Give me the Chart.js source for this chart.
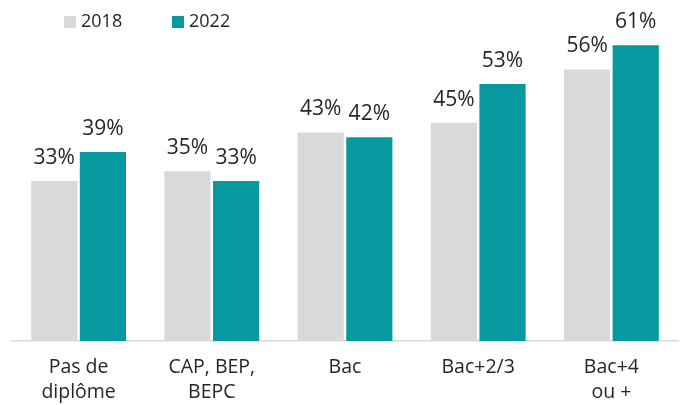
<!DOCTYPE html>
<html>
<head>
<meta charset="utf-8">
<script src="https://cdn.jsdelivr.net/npm/chart.js@4"></script>
<style>
  html, body { margin: 0; padding: 0; background: #fff; }
  #wrap { width: 683px; height: 405px; }
</style>
</head>
<body>
<div id="wrap"><canvas id="barChart"></canvas></div>
<script>
const categories = [["Pas de", "diplôme"], ["CAP, BEP,", "BEPC"], ["Bac"], ["Bac+2/3"], ["Bac+4", "ou +"]];
const values2018 = [33, 35, 43, 45, 56];
const values2022 = [39, 33, 42, 53, 61];
const seriesNames = ["2018", "2022"];
const colors = ["#d9d9d9", "#08989f"];
const FONT = "'Open Sans', 'Noto Sans', sans-serif";

// value labels above each bar
const barLabels = {
    id: 'barLabels',
    afterDatasetsDraw(chart) {
        const ctx = chart.ctx;
        ctx.save();
        ctx.font = "21px " + FONT;
        ctx.fillStyle = "#262626";
        ctx.textAlign = "center";
        ctx.textBaseline = "alphabetic";
        chart.data.datasets.forEach((ds, i) => {
            chart.getDatasetMeta(i).data.forEach((bar, j) => {
                ctx.fillText(ds.data[j] + "%", bar.x, bar.y - 17);
            });
        });
        ctx.restore();
    }
};

// legend drawn at top left
const topLegend = {
    id: 'topLegend',
    afterDraw(chart) {
        const ctx = chart.ctx;
        const xs = [64, 172];
        ctx.save();
        ctx.font = "18px " + FONT;
        ctx.textBaseline = "middle";
        chart.data.datasets.forEach((ds, i) => {
            ctx.fillStyle = ds.backgroundColor;
            ctx.fillRect(xs[i], 16, 12, 12);
            ctx.fillStyle = "#262626";
            ctx.fillText(ds.label, xs[i] + 17, 22);
        });
        ctx.restore();
    }
};

const ctx = document.getElementById('barChart');
const barChart = new Chart(ctx, {
    type: 'bar',
    data: {
        labels: categories,
        datasets: [
            { label: seriesNames[0], data: values2018, backgroundColor: colors[0] },
            { label: seriesNames[1], data: values2022, backgroundColor: colors[1] }
        ]
    },
    options: {
        responsive: true,
        maintainAspectRatio: false,
        animation: false,
        categoryPercentage: 0.73,
        barPercentage: 0.95,
        layout: { padding: { top: 36, left: 12, right: 5, bottom: -14 } },
        plugins: {
            legend: { display: false },
            tooltip: { enabled: false }
        },
        scales: {
            x: {
                grid: { display: false, drawTicks: false, tickLength: 0 },
                border: { display: true, color: "#d9d9d9", width: 1.5 },
                ticks: {
                    color: "#262626",
                    font: { family: FONT, size: 19.5, lineHeight: "25px" },
                    padding: 14,
                    maxRotation: 0
                }
            },
            y: {
                display: false,
                min: 0,
                max: 62.9
            }
        }
    },
    plugins: [barLabels, topLegend]
});
</script>
</body>
</html>
